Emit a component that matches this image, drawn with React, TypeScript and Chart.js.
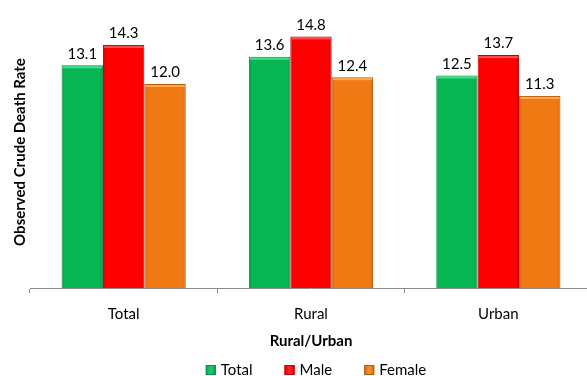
import { useEffect, useRef } from "react";
import { Chart, registerables } from "chart.js";

Chart.register(...registerables);

const categories = ["Total", "Rural", "Urban"];
const seriesNames = ["Total", "Male", "Female"];
const totalValues = [13.1, 13.6, 12.5];
const maleValues = [14.3, 14.8, 13.7];
const femaleValues = [12.0, 12.4, 11.3];
const yMin = 0;
const yMax = 16;
const yTitle = "Observed Crude Death Rate";
const xTitle = "Rural/Urban";

const fills = ["#07B553", "#FE0000", "#F07914"];
const borders = ["#0A9146", "#C40000", "#B85C0C"];
const highlights = ["#3FE08A", "#FF5050", "#FFA850"];

const FONT = "Lato, 'Open Sans', sans-serif";

const decorPlugin = {
  id: "decor",
  afterDatasetsDraw(chart: any) {
    const ctx = chart.ctx;
    const area = chart.chartArea;
    ctx.save();
    chart.data.datasets.forEach((ds: any, di: number) => {
      const meta = chart.getDatasetMeta(di);
      meta.data.forEach((bar: any, i: number) => {
        const p = bar.getProps(["x", "y", "base", "width"], true);
        const left = p.x - p.width / 2;
        const right = p.x + p.width / 2;
        const g = ctx.createLinearGradient(left, 0, right, 0);
        g.addColorStop(0, "rgba(0,0,0,0.18)");
        g.addColorStop(0.07, "rgba(0,0,0,0)");
        g.addColorStop(0.93, "rgba(0,0,0,0)");
        g.addColorStop(1, "rgba(0,0,0,0.18)");
        ctx.fillStyle = g;
        ctx.fillRect(left + 1, p.y + 1, p.width - 2, p.base - p.y - 1);
        ctx.fillStyle = highlights[di];
        ctx.fillRect(left + 1, p.y + 1, p.width - 2, 2);
        ctx.fillStyle = "#000";
        ctx.font = `15px ${FONT}`;
        ctx.textAlign = "center";
        ctx.textBaseline = "bottom";
        ctx.fillText(Number(ds.data[i]).toFixed(1), p.x, p.y - 4);
      });
    });
    ctx.save();
    ctx.translate(20, (area.top + area.bottom) / 2);
    ctx.rotate(-Math.PI / 2);
    ctx.font = `bold 15px ${FONT}`;
    ctx.fillStyle = "#000";
    ctx.textAlign = "center";
    ctx.textBaseline = "middle";
    ctx.fillText(yTitle, 0, 0);
    ctx.restore();
    ctx.font = `bold 15px ${FONT}`;
    ctx.fillStyle = "#000";
    ctx.textAlign = "center";
    ctx.textBaseline = "middle";
    ctx.fillText(xTitle, (area.left + area.right) / 2, 341);
    ctx.font = `15px ${FONT}`;
    const box = 10;
    const gap = 5;
    const spacing = 32;
    const widths = chart.data.datasets.map(
      (d: any) => box + gap + ctx.measureText(d.label).width
    );
    const total =
      widths.reduce((a: number, b: number) => a + b, 0) +
      spacing * (widths.length - 1);
    let x = 316 - total / 2;
    const ly = 370;
    chart.data.datasets.forEach((d: any, di: number) => {
      const lg = ctx.createLinearGradient(x, 0, x + box, 0);
      lg.addColorStop(0, borders[di]);
      lg.addColorStop(0.5, highlights[di]);
      lg.addColorStop(1, borders[di]);
      ctx.fillStyle = fills[di];
      ctx.fillRect(x, ly - box / 2, box, box);
      ctx.fillStyle = lg;
      ctx.globalAlpha = 0.5;
      ctx.fillRect(x, ly - box / 2, box, box);
      ctx.globalAlpha = 1;
      ctx.strokeStyle = borders[di];
      ctx.lineWidth = 1;
      ctx.strokeRect(x + 0.5, ly - box / 2 + 0.5, box - 1, box - 1);
      ctx.fillStyle = "#000";
      ctx.textAlign = "left";
      ctx.textBaseline = "middle";
      ctx.fillText(d.label, x + box + gap, ly);
      x += widths[di] + spacing;
    });
    ctx.restore();
  },
};

export default function App() {
  const ref = useRef<HTMLCanvasElement | null>(null);
  useEffect(() => {
    if (!ref.current) return;
    const values = [totalValues, maleValues, femaleValues];
    const chart = new Chart(ref.current, {
      type: "bar",
      data: {
        labels: categories,
        datasets: seriesNames.map((name, i) => ({
          label: name,
          data: values[i],
          backgroundColor: fills[i],
          borderColor: borders[i],
          borderWidth: 1,
          barPercentage: 1,
          categoryPercentage: 0.663,
        })),
      },
      options: {
        responsive: false,
        animation: false,
        devicePixelRatio: 1,
        layout: { padding: { left: 30, right: 0, top: 16, bottom: 41 } },
        plugins: {
          legend: { display: false },
          tooltip: { enabled: false },
        },
        scales: {
          x: {
            grid: {
              display: true,
              drawOnChartArea: false,
              drawTicks: true,
              tickLength: 5,
              color: "#8C8C8C",
            },
            border: { display: true, color: "#8C8C8C", width: 1 },
            ticks: {
              color: "#000",
              font: { family: FONT, size: 15 },
              padding: 12,
            },
          },
          y: {
            display: false,
            min: yMin,
            max: yMax,
          },
        },
      },
      plugins: [decorPlugin],
    });
    return () => chart.destroy();
  }, []);
  return (
    <div
      style={{
        position: "fixed",
        left: 0,
        top: 0,
        width: 587,
        height: 376,
        overflow: "hidden",
        background: "#fff",
      }}
    >
      <canvas
        ref={ref}
        width={592}
        height={376}
        style={{ width: 592, height: 376, display: "block" }}
      />
    </div>
  );
}
